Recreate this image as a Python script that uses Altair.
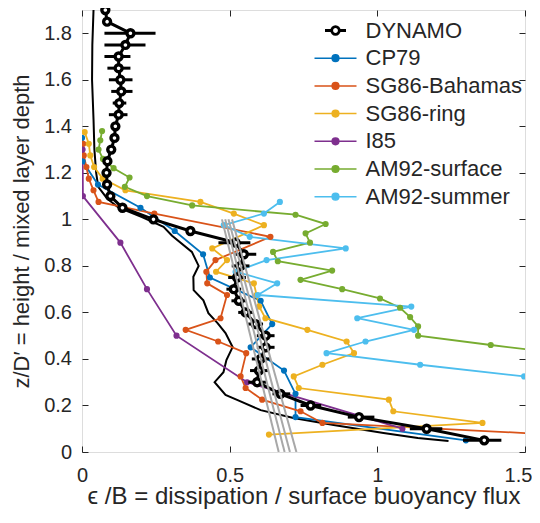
import altair as alt
import pandas as pd

FONT = "Liberation Sans"
INK = "#262626"
SERIES = ["DYNAMO", "CP79", "SG86-Bahamas", "SG86-ring", "I85", "AM92-surface", "AM92-summer"]
COLORS = ["#000000", "#0072BD", "#D95319", "#EDB120", "#7E2F8E", "#77AC30", "#4DBEEE"]
FILLS = ["#FFFFFF", "#0072BD", "#D95319", "#EDB120", "#7E2F8E", "#77AC30", "#4DBEEE"]
X_TICKS = [0, 0.5, 1, 1.5]
Y_TICKS = [0, 0.2, 0.4, 0.6, 0.8, 1, 1.2, 1.4, 1.6, 1.8]

# DYNAMO profile with horizontal error bars
dyn_z = [1.90, 1.85, 1.80, 1.75, 1.70, 1.65, 1.60, 1.55, 1.50, 1.45, 1.40, 1.35, 1.30,
         1.25, 1.20, 1.15, 1.10, 1.05, 1.00, 0.95, 0.90, 0.85, 0.80, 0.75, 0.70, 0.65,
         0.60, 0.55, 0.50, 0.45, 0.40, 0.35, 0.30, 0.25, 0.20, 0.15, 0.10, 0.05]
dyn_x = [0.079, 0.085, 0.164, 0.147, 0.124, 0.124, 0.130, 0.133, 0.126, 0.124, 0.113, 0.110, 0.099,
         0.086, 0.083, 0.085, 0.096, 0.137, 0.242, 0.367, 0.520, 0.548, 0.537, 0.525, 0.514, 0.531,
         0.554, 0.588, 0.622, 0.622, 0.605, 0.599, 0.593, 0.672, 0.774, 0.938, 1.167, 1.362]
dyn_lo = [0.073, 0.079, 0.076, 0.076, 0.076, 0.086, 0.091, 0.099, 0.104, 0.091, 0.098, 0.097, 0.089,
          0.077, 0.075, 0.077, 0.088, 0.128, 0.232, 0.357, 0.462, 0.520, 0.507, 0.495, 0.489, 0.506,
          0.529, 0.563, 0.592, 0.592, 0.575, 0.569, 0.563, 0.645, 0.740, 0.900, 1.110, 1.290]
dyn_hi = [0.085, 0.091, 0.249, 0.215, 0.164, 0.164, 0.171, 0.171, 0.150, 0.154, 0.128, 0.123, 0.109,
          0.095, 0.091, 0.093, 0.104, 0.146, 0.252, 0.377, 0.570, 0.590, 0.567, 0.555, 0.539, 0.556,
          0.579, 0.613, 0.652, 0.652, 0.635, 0.629, 0.623, 0.705, 0.810, 0.990, 1.220, 1.420]

# thin black curve (no markers)
thin_z = [1.90, 1.75, 1.60, 1.43, 1.30, 1.20, 1.14, 1.09, 1.05, 1.01, 0.968, 0.93, 0.86, 0.80,
          0.753, 0.696, 0.652, 0.597, 0.554, 0.511, 0.451, 0.395, 0.343, 0.30, 0.245, 0.223,
          0.18, 0.146, 0.116, 0.082, 0.06, 0.047]
thin_x = [0.039, 0.035, 0.034, 0.039, 0.042, 0.048, 0.055, 0.085, 0.124, 0.203, 0.276, 0.305, 0.372, 0.395,
          0.377, 0.378, 0.411, 0.428, 0.459, 0.486, 0.51, 0.489, 0.479, 0.449, 0.486, 0.527,
          0.605, 0.716, 0.852, 1.021, 1.137, 1.241]

# grey straight lines
grey_id = [1, 2, 3, 4]
grey_top_z = [1.0, 1.0, 1.0, 1.0]
grey_top_x = [0.474, 0.485, 0.496, 0.508]
grey_bot_z = [0.0, 0.0, 0.0, 0.0]
grey_bot_x = [0.666, 0.686, 0.704, 0.726]

cp_z = [1.35, 1.25, 1.15, 1.05, 0.95, 0.85, 0.75, 0.65, 0.55, 0.45, 0.35, 0.25, 0.15, 0.05]
cp_x = [0.0, 0.002, 0.054, 0.198, 0.314, 0.41, 0.433, 0.605, 0.644, 0.571, 0.684, 0.723, 0.723, 1.30]

sb_z = [1.325, 1.275, 1.225, 1.175, 1.125, 1.075, 1.025, 0.925, 0.825, 0.775, 0.725, 0.675,
        0.575, 0.525, 0.475, 0.425, 0.325, 0.275, 0.225, 0.175, 0.125, 0.075]
sb_x = [0.004, 0.006, 0.015, 0.023, 0.039, 0.056, 0.245, 0.638, 0.452, 0.421, 0.424, 0.491,
        0.469, 0.351, 0.461, 0.556, 0.537, 0.554, 0.61, 0.74, 0.814, 1.60]

sr_z = [1.375, 1.325, 1.275, 1.225, 1.175, 1.125, 1.075, 1.025, 0.975, 0.875, 0.825, 0.775, 0.725,
        0.675, 0.625, 0.575, 0.525, 0.475, 0.425, 0.375, 0.325, 0.275, 0.225, 0.175, 0.125, 0.075]
sr_x = [0.009, 0.023, 0.028, 0.041, 0.07, 0.147, 0.401, 0.514, 0.616, 0.441, 0.491, 0.454, 0.582,
        0.591, 0.60, 0.621, 0.763, 0.896, 0.921, 0.814, 0.717, 0.734, 1.039, 1.054, 1.356, 0.633]

pu_z = [1.30, 1.10, 0.90, 0.70, 0.50, 0.30, 0.10]
pu_x = [0.002, 0.003, 0.13, 0.22, 0.32, 0.559, 1.085]

gs_z = [1.38, 1.34, 1.30, 1.26, 1.22, 1.18, 1.14, 1.10, 1.06, 1.02, 0.98, 0.94, 0.90, 0.86,
        0.82, 0.78, 0.74, 0.70, 0.66, 0.62, 0.58, 0.54, 0.50, 0.46, 0.42]
gs_x = [0.068, 0.062, 0.056, 0.071, 0.107, 0.161, 0.145, 0.22, 0.373, 0.723, 0.825, 0.757, 0.772, 0.647,
        0.663, 0.847, 0.74, 0.881, 1.009, 1.077, 1.111, 1.138, 1.138, 1.384, 1.64]

cs_z = [1.075, 1.025, 0.975, 0.925, 0.875, 0.825, 0.775, 0.725, 0.675, 0.625, 0.575, 0.525,
        0.475, 0.425, 0.375, 0.325]
cs_x = [0.67, 0.616, 0.48, 0.568, 0.893, 0.625, 0.52, 0.661, 0.595, 1.115, 0.932, 1.124,
        0.96, 0.828, 1.145, 1.497]

other = {
    "CP79": (cp_z, cp_x),
    "SG86-Bahamas": (sb_z, sb_x),
    "SG86-ring": (sr_z, sr_x),
    "I85": (pu_z, pu_x),
    "AM92-surface": (gs_z, gs_x),
    "AM92-summer": (cs_z, cs_x),
}
rows = []
for name in SERIES[1:]:
    zs, xs = other[name]
    for i, (zz, xx) in enumerate(zip(zs, xs)):
        rows.append({"series": name, "z": zz, "x": xx, "i": i})
col_df = pd.DataFrame(rows)

dyn_df = pd.DataFrame({"series": "DYNAMO", "z": dyn_z, "x": dyn_x, "lo": dyn_lo, "hi": dyn_hi,
                       "i": list(range(len(dyn_z)))})
thin_df = pd.DataFrame({"z": thin_z, "x": thin_x, "i": list(range(len(thin_z)))})
grey_df = pd.DataFrame({
    "g": grey_id + grey_id,
    "z": grey_top_z + grey_bot_z,
    "x": grey_top_x + grey_bot_x,
    "i": [0] * 4 + [1] * 4,
})
# legend key table: one row per series, no position (nothing is drawn for it)
leg_df = pd.DataFrame({"series": SERIES})

XS = alt.Scale(domain=[0, 1.5], nice=False, zero=False)
YS = alt.Scale(domain=[0, 1.9], nice=False, zero=False)
W, H = 443, 442


def tick_axis(orient, values, offset):
    return alt.Axis(orient=orient, offset=offset, values=values, labels=False, ticks=True,
                    tickSize=6, tickColor=INK, tickWidth=1, domain=False, grid=False, title=None)


x_main = alt.Axis(orient="bottom", values=X_TICKS, format="~g", ticks=False, tickSize=0, domain=False,
                  grid=False, labelFlush=False, labelFont=FONT, labelFontSize=20, labelColor=INK,
                  labelPadding=13,
                  labelOffset={"condition": {"test": "datum.value === 1.5", "value": -7}, "value": 0},
                  title="\u03f5 /B = dissipation / surface buoyancy flux",
                  titleFont=FONT, titleFontSize=24, titleColor=INK, titleFontWeight="normal",
                  titlePadding=-1)
y_main = alt.Axis(orient="left", values=Y_TICKS, format="~g", ticks=False, tickSize=0, domain=False,
                  grid=False, labelFlush=False, labelFont=FONT, labelFontSize=20, labelColor=INK,
                  labelPadding=10.5, title="z/D\u2032 = height / mixed layer depth",
                  titleFont=FONT, titleFontSize=22, titleColor=INK, titleFontWeight="normal",
                  titlePadding=10)

PATH_C = "M-2,0H2M-0.32,0A0.32,0.32 0 1,0 0.32,0A0.32,0.32 0 1,0 -0.32,0"
circ = "".join(f"M-{r},0A{r},{r} 0 1,0 {r},0A{r},{r} 0 1,0 -{r},0" for r in (0.30, 0.36, 0.42))
PATH_D = "M-1,-0.06H-0.42M-1,0.06H-0.42M0.42,-0.06H1M0.42,0.06H1" + circ
SHAPES = [PATH_D] + [PATH_C] * 6

LEG = alt.Legend(
    orient="none", legendX=228, legendY=5, title=None, padding=4,
    symbolSize=441, symbolStrokeWidth=1.5, symbolOffset=10, labelOffset=18.5, rowPadding=4.7,
    symbolFillColor="white", symbolStrokeColor="black", symbolOpacity=1,
    labelFont=FONT, labelFontSize=22, labelColor=INK, labelLimit=400,
)
# colour scale for the six literature profiles only (DYNAMO is drawn in black)
COLOR = alt.Color("series:N", scale=alt.Scale(domain=SERIES[1:], range=COLORS[1:]), legend=None)

thin = alt.Chart(thin_df).mark_line(color="black", strokeWidth=2, clip=True).encode(
    x=alt.X("x:Q", scale=XS, axis=x_main),
    y=alt.Y("z:Q", scale=YS, axis=y_main),
    order="i:Q",
)

col_line = alt.Chart(col_df).mark_line(strokeWidth=1.8, clip=True).encode(
    x=alt.X("x:Q", scale=XS, axis=tick_axis("top", X_TICKS, -H)),
    y=alt.Y("z:Q", scale=YS, axis=tick_axis("right", Y_TICKS, -W)),
    color=COLOR,
    order="i:Q",
)
col_pts = alt.Chart(col_df).mark_circle(size=38, opacity=1, clip=True).encode(
    x=alt.X("x:Q", scale=XS, axis=None),
    y=alt.Y("z:Q", scale=YS, axis=None),
    color=COLOR,
)

err = alt.Chart(dyn_df).mark_rule(color="black", strokeWidth=3).encode(
    x=alt.X("lo:Q", scale=XS, axis=tick_axis("bottom", X_TICKS, -H)),
    x2="hi:Q",
    y=alt.Y("z:Q", scale=YS, axis=tick_axis("left", Y_TICKS, -W)),
)
dyn_line = alt.Chart(dyn_df).mark_line(strokeWidth=3, color="black").encode(
    x=alt.X("x:Q", scale=XS, axis=None),
    y=alt.Y("z:Q", scale=YS, axis=None),
    order="i:Q",
)
dyn_pts = alt.Chart(dyn_df).mark_point(shape="circle", filled=False, fill="white", color="black",
                                       size=48, strokeWidth=3.4, opacity=1).encode(
    x=alt.X("x:Q", scale=XS, axis=None),
    y=alt.Y("z:Q", scale=YS, axis=None),
)

grey = alt.Chart(grey_df).mark_line(color="#A8A8A8", strokeWidth=2, clip=True).encode(
    x=alt.X("x:Q", scale=XS, axis=None),
    y=alt.Y("z:Q", scale=YS, axis=None),
    detail="g:N",
    order="i:Q",
)

legend_layer = alt.Chart(leg_df).mark_point(size=441, strokeWidth=1.5, opacity=1).encode(
    x=alt.X("xx:Q", scale=XS, axis=None),
    y=alt.Y("zz:Q", scale=YS, axis=None),
    fill=alt.Fill("series:N", scale=alt.Scale(domain=SERIES, range=FILLS), legend=LEG),
    stroke=alt.Stroke("series:N", scale=alt.Scale(domain=SERIES, range=COLORS), legend=LEG),
    shape=alt.Shape("series:N", scale=alt.Scale(domain=SERIES, range=SHAPES), legend=LEG),
)

chart = (
    alt.layer(thin, col_line, col_pts, err, dyn_line, dyn_pts, grey, legend_layer)
    .resolve_axis(x="independent", y="independent")
    .properties(width=W, height=H, padding={"left": 74, "top": 2, "right": 7, "bottom": 58},
                autosize=alt.AutoSizeParams(type="none"))
    .configure_view(stroke=INK, strokeWidth=1)
    .configure(font=FONT)
)

chart.save("out.html", embed_options={"renderer": "svg", "actions": False})
